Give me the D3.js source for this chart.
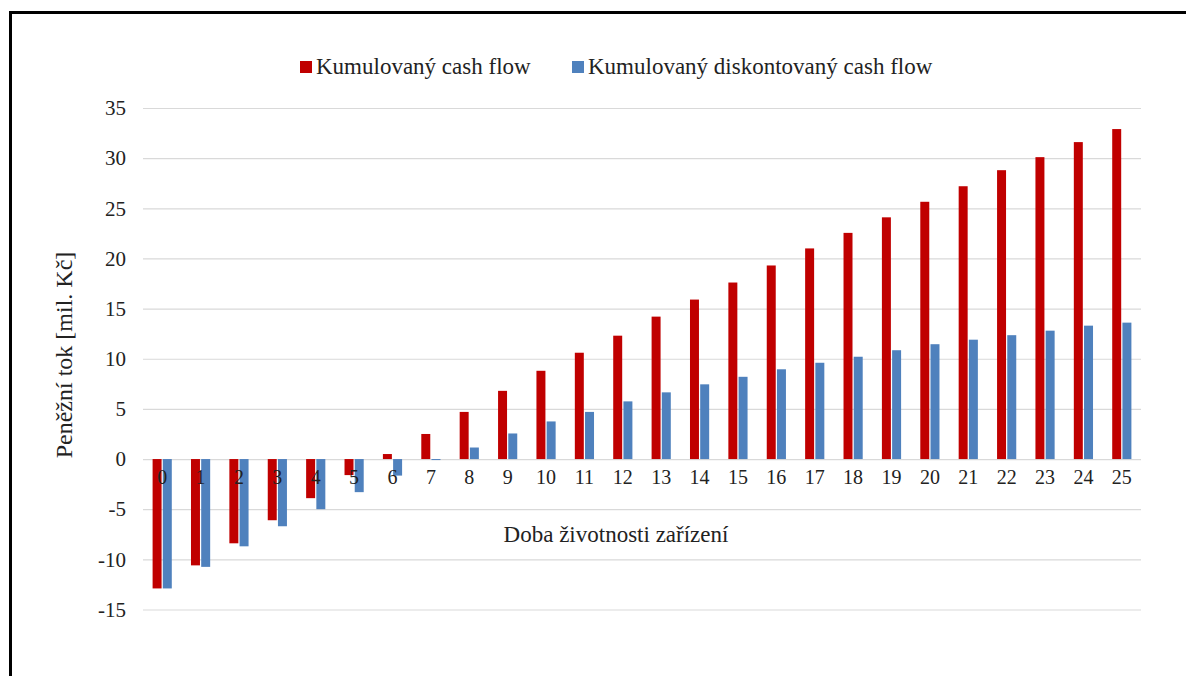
<!DOCTYPE html>
<html>
<head>
<meta charset="utf-8">
<script src="https://cdn.jsdelivr.net/npm/d3@7"></script>
</head>
<body style="margin:0">
<svg id="chart" width="1186" height="676"></svg>
<script>
const categories = ["0","1","2","3","4","5","6","7","8","9","10","11","12","13","14","15","16","17","18","19","20","21","22","23","24","25"];
const seriesNames = ["Kumulovaný cash flow", "Kumulovaný diskontovaný cash flow"];
const cumulativeCF = [-12.9, -10.6, -8.4, -6.1, -3.9, -1.6, 0.5, 2.5, 4.7, 6.8, 8.8, 10.6, 12.3, 14.2, 15.9, 17.6, 19.3, 21.0, 22.55, 24.1, 25.65, 27.2, 28.8, 30.1, 31.6, 32.9];
const discountedCF = [-12.9, -10.75, -8.7, -6.7, -5.0, -3.3, -1.65, -0.1, 1.15, 2.55, 3.75, 4.7, 5.75, 6.65, 7.45, 8.2, 8.95, 9.6, 10.2, 10.85, 11.45, 11.9, 12.35, 12.8, 13.3, 13.6];
const yTicks = [-15, -10, -5, 0, 5, 10, 15, 20, 25, 30, 35];
const colors = ["#C00000", "#4F81BD"];
const yTitle = "Peněžní tok [mil. Kč]";
const xTitle = "Doba životnosti zařízení";

const FONT = "'Liberation Serif'";
const svg = d3.select("#chart");

// frame
svg.append("path")
  .attr("d", "M10.5,676 L10.5,12.5 L1186,12.5")
  .attr("fill", "none").attr("stroke", "#000").attr("stroke-width", 3);

const x = d3.scaleBand().domain(categories).range([143, 1141]).paddingInner(0.5).paddingOuter(0.25);
const xs = d3.scaleBand().domain(seriesNames).range([0, x.bandwidth()]).paddingInner(0.12);
const y = d3.scaleLinear().domain([-15, 35]).range([609.5, 108]);

// gridlines + y tick labels
const yAxis = d3.axisLeft(y).tickValues(yTicks).tickSize(-(1141 - 143)).tickPadding(17).tickFormat(d3.format("d"));
const gy = svg.append("g").attr("transform", "translate(143,0)").call(yAxis);
gy.attr("font-family", null).attr("font-size", null);
gy.select(".domain").remove();
gy.selectAll(".tick line").attr("stroke", "#d9d9d9").attr("stroke-width", 1.2);
gy.selectAll(".tick text").style("font-family", FONT).attr("font-size", 21).attr("fill", "#222")
  .text(d => d < 0 ? "-" + Math.abs(d) : d);

// bars
const data = categories.map((c, i) => ({ c, vals: [cumulativeCF[i], discountedCF[i]] }));
const groups = svg.append("g").selectAll("g").data(data).join("g")
  .attr("transform", d => `translate(${x(d.c)},0)`);
groups.selectAll("rect").data(d => d.vals.map((v, j) => ({ v, j }))).join("rect")
  .attr("x", d => xs(seriesNames[d.j]))
  .attr("width", xs.bandwidth())
  .attr("y", d => y(Math.max(0, d.v)))
  .attr("height", d => Math.max(1, Math.abs(y(d.v) - y(0))))
  .attr("fill", d => colors[d.j]);

// category labels
const xAxis = d3.axisBottom(x).tickSize(0).tickPadding(0);
const gx = svg.append("g").attr("transform", `translate(0,${y(0)})`).call(xAxis);
gx.attr("font-family", null).attr("font-size", null);
gx.select(".domain").remove();
gx.selectAll(".tick text").style("font-family", FONT).attr("font-size", 20).attr("fill", "#222")
  .attr("dy", null).attr("y", 25);

// axis titles
svg.append("text").attr("x", 616).attr("y", 542).attr("text-anchor", "middle")
  .style("font-family", FONT).attr("font-size", 23).attr("fill", "#222").text(xTitle);
svg.append("text").attr("transform", "translate(72,355) rotate(-90)").attr("text-anchor", "middle")
  .style("font-family", FONT).attr("font-size", 24).attr("fill", "#222").text(yTitle);

// legend
const legendX = [300, 572];
const lg = svg.append("g").selectAll("g").data(seriesNames).join("g")
  .attr("transform", (d, i) => `translate(${legendX[i]},0)`);
lg.append("rect").attr("x", 0).attr("y", 61).attr("width", 12).attr("height", 12)
  .attr("fill", (d, i) => colors[i]);
lg.append("text").attr("x", 16).attr("y", 74)
  .style("font-family", FONT).attr("font-size", 23).attr("fill", "#222").text(d => d);
</script>
</body>
</html>
